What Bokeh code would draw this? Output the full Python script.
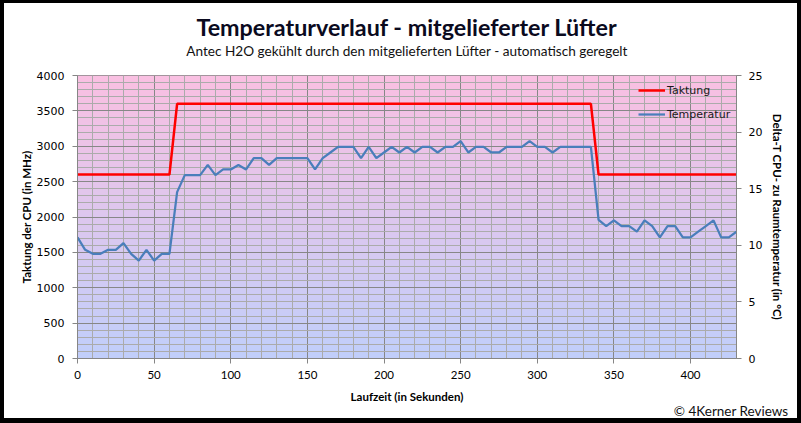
import numpy as np
from bokeh.plotting import figure
from bokeh.models import Range1d, LinearAxis, FixedTicker, Legend, LegendItem, Title
from bokeh.embed import file_html
from bokeh.resources import INLINE

# ---------------- data ----------------
zeit_s = [0, 5, 10, 15, 20, 25, 30, 35, 40, 45, 50, 55, 60, 65, 70, 75, 80, 85, 90, 95,
          100, 105, 110, 115, 120, 125, 130, 135, 140, 145, 150, 155, 160, 165, 170, 175,
          180, 185, 190, 195, 200, 205, 210, 215, 220, 225, 230, 235, 240, 245, 250, 255,
          260, 265, 270, 275, 280, 285, 290, 295, 300, 305, 310, 315, 320, 325, 330, 335,
          340, 345, 350, 355, 360, 365, 370, 375, 380, 385, 390, 395, 400, 405, 410, 415,
          420, 425, 430]
temperatur = [10.7, 9.6, 9.25, 9.25, 9.6, 9.6, 10.2, 9.25, 8.65, 9.6, 8.65, 9.25, 9.25,
              14.7, 16.2, 16.2, 16.2, 17.1, 16.2, 16.7,
              16.7, 17.1, 16.7, 17.7, 17.7, 17.1, 17.7, 17.7, 17.7, 17.7, 17.7, 16.7, 17.7, 18.2, 18.7, 18.7,
              18.7, 17.7, 18.7, 17.7, 18.2, 18.7, 18.2, 18.7, 18.2, 18.7, 18.7, 18.2, 18.7, 18.7, 19.2, 18.2,
              18.7, 18.7, 18.2, 18.2, 18.7, 18.7, 18.7, 19.2, 18.7, 18.7, 18.2, 18.7, 18.7, 18.7, 18.7, 18.7,
              12.25, 11.7, 12.2, 11.7, 11.7, 11.2, 12.2, 11.7, 10.7, 11.7, 11.7, 10.7, 10.7, 11.2, 11.7, 12.2,
              10.7, 10.7, 11.2]
takt_zeit = [0, 60, 65, 335, 340, 430]
taktung = [2600, 2600, 3600, 3600, 2600, 2600]

x_ticks = [0, 50, 100, 150, 200, 250, 300, 350, 400]
x_minor = list(range(0, 431, 10))
y_left_ticks = [0, 500, 1000, 1500, 2000, 2500, 3000, 3500, 4000]
y_left_minor = list(range(0, 4001, 100))
y_right_ticks = [0, 5, 10, 15, 20, 25]

x_min, x_max = 0, 430
yl_min, yl_max = 0, 4000
yr_min, yr_max = 0, 25

# host element 793x415 inside a black CSS border -> 801x423 in total
W, H = 793, 415
BL, BR, BT, BB = 73, 69, 72, 68

# ---------------- figure ----------------
p = figure(width=W, height=H, output_backend="svg", toolbar_location=None,
           x_range=Range1d(x_min, x_max), y_range=Range1d(yl_min, yl_max),
           min_border_left=BL, min_border_right=BR, min_border_top=BT, min_border_bottom=BB,
           background_fill_color="white", border_fill_color="white",
           styles={"border-style": "solid", "border-color": "black",
                   "border-width": "3px 4px 5px 4px", "box-sizing": "content-box"})
p.extra_y_ranges = {"temp": Range1d(yr_min, yr_max)}
p.outline_line_color = "#868686"

# gradient background (pink top -> light blue bottom)
n = 283
top = np.array([250, 192, 226], dtype=float)
bot = np.array([193, 207, 251], dtype=float)
f = np.linspace(0, 1, n)[:, None]
rgb = bot * (1 - f) + top * f
img = np.empty((n, 1), dtype=np.uint32)
view = img.view(dtype=np.uint8).reshape((n, 1, 4))
view[:, 0, 0] = rgb[:, 0]
view[:, 0, 1] = rgb[:, 1]
view[:, 0, 2] = rgb[:, 2]
view[:, 0, 3] = 255
p.image_rgba(image=[img], x=x_min, y=yl_min, dw=x_max - x_min, dh=yl_max - yl_min, level="image")

# grid
for g in (p.xgrid[0], p.ygrid[0]):
    g.grid_line_color = "#878787"
    g.grid_line_width = 1
    g.minor_grid_line_color = "#ababab"
    g.minor_grid_line_width = 1

# axes
p.xaxis.ticker = FixedTicker(ticks=x_ticks, minor_ticks=x_minor)
p.yaxis.ticker = FixedTicker(ticks=y_left_ticks, minor_ticks=y_left_minor)

def style_axis(ax):
    ax.axis_line_color = "#868686"
    ax.major_tick_line_color = "#868686"
    ax.major_tick_out = 5
    ax.major_tick_in = 0
    ax.minor_tick_out = 0
    ax.minor_tick_in = 0
    ax.major_label_text_color = "black"
    ax.axis_label_text_color = "black"
    ax.axis_label_text_font_style = "bold"

style_axis(p.xaxis[0])
style_axis(p.yaxis[0])

p.xaxis.axis_label = "Laufzeit (in Sekunden)"
p.xaxis.axis_label_text_font = "Lato"
p.xaxis.axis_label_text_font_size = "11.5px"
p.xaxis.major_label_text_font = "Lato"
p.xaxis.major_label_text_font_size = "11.5px"
p.xaxis.major_label_standoff = 7
p.xaxis.axis_label_standoff = 8

p.yaxis.axis_label = "Taktung der CPU (in MHz)"
p.yaxis.axis_label_text_font = "Lato"
p.yaxis.axis_label_text_font_size = "11.5px"
p.yaxis.major_label_text_font = "DejaVu Sans"
p.yaxis.major_label_text_font_size = "11px"
p.yaxis.major_label_standoff = 8
p.yaxis.axis_label_standoff = 1

yr = LinearAxis(y_range_name="temp", ticker=FixedTicker(ticks=y_right_ticks, minor_ticks=[]))
style_axis(yr)
yr.major_label_text_font = "DejaVu Sans"
yr.major_label_text_font_size = "11px"
yr.major_label_standoff = 7
yr.axis_label = "Delta-T CPU- zu Raumtemperatur (in °C)"
yr.axis_label_text_font = "Lato"
yr.axis_label_text_font_size = "11.5px"
yr.axis_label_standoff = 6
p.add_layout(yr, "right")

# lines
r_takt = p.line(takt_zeit, taktung, line_color="#ff0000", line_width=2.5)
r_temp = p.line(zeit_s, temperatur, y_range_name="temp", line_color="#4a7ebb", line_width=2.25)

legend = Legend(items=[LegendItem(label="Taktung", renderers=[r_takt]),
                       LegendItem(label="Temperatur", renderers=[r_temp])],
                location=(561, 234), glyph_width=27, glyph_height=20, label_height=20,
                label_standoff=2, spacing=4, padding=0, margin=0,
                background_fill_alpha=0, border_line_alpha=0,
                label_text_font="DejaVu Sans", label_text_font_size="11px",
                label_text_color="#1a1a1a")
p.add_layout(legend)

# titles
p.add_layout(Title(text="Antec H2O gekühlt durch den mitgelieferten Lüfter - automatisch geregelt",
                   align="center", text_font="Lato", text_font_size="13.6px",
                   text_font_style="normal", text_color="#111111", standoff=33), "above")
p.add_layout(Title(text="Temperaturverlauf - mitgelieferter Lüfter",
                   align="center", text_font="Lato", text_font_size="23.3px",
                   text_font_style="bold", text_color="#0a0a1e", standoff=-32), "above")
p.add_layout(Title(text="© 4Kerner Reviews", align="right", text_font="Lato",
                   text_font_size="13.5px", text_font_style="normal",
                   text_color="#111111", standoff=-10, offset=-52), "below")

open("out.html", "w").write(file_html(p, INLINE, title="Temperaturverlauf"))
